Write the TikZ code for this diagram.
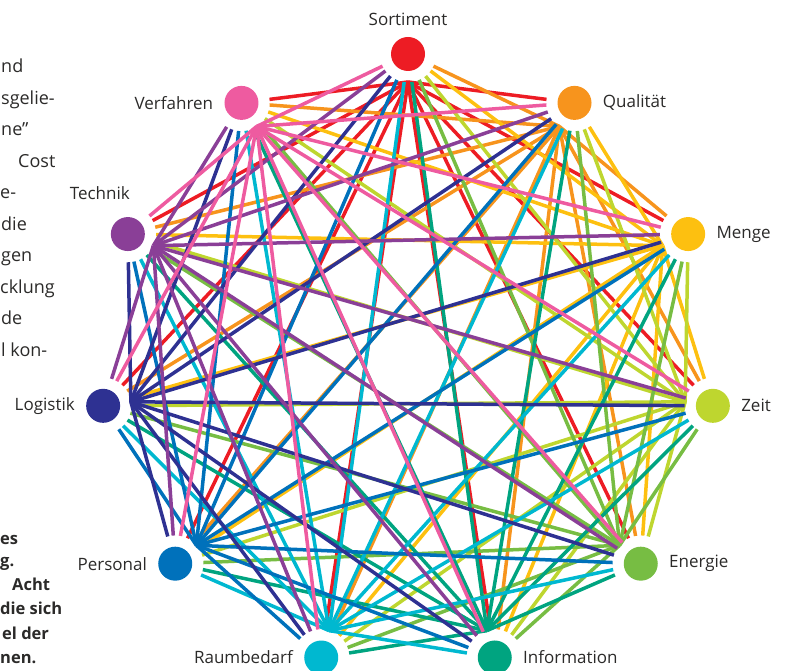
\documentclass[tikz,border=0pt]{standalone}
\usepackage{fontspec}
\setmainfont{Open Sans}
\usetikzlibrary{calc}

% Farben der elf Faktoren
\definecolor{sort}{HTML}{ED1C24}
\definecolor{qual}{HTML}{F7941D}
\definecolor{menge}{HTML}{FDC010}
\definecolor{zeit}{HTML}{BED62F}
\definecolor{energie}{HTML}{77BD43}
\definecolor{info}{HTML}{00A480}
\definecolor{raum}{HTML}{00B8D0}
\definecolor{pers}{HTML}{0071BB}
\definecolor{logi}{HTML}{2E3192}
\definecolor{tech}{HTML}{8A3F97}
\definecolor{verf}{HTML}{EE5BA0}
\definecolor{schrift}{HTML}{2B2A29}

\def\spots{sort,qual,menge,zeit,energie,info,raum,pers,logi,tech,verf}

\tikzset{
  % weisser Hof (r=28) mit farbigem Punkt (r=17)
  spot/.style={circle, minimum size=56pt, inner sep=0pt,
    path picture={\fill[#1] (path picture bounding box.center) circle (17pt);}},
  lbl/.style={font=\fontsize{17}{20}\selectfont, text=schrift, inner sep=1pt},
  lblnear/.style={label distance=-1pt},
  lblfar/.style={label distance=5pt, xshift=-28pt},
  link/.style={line width=3.5pt},
  body/.style={anchor=base west, font=\fontsize{18}{22}\selectfont, text=schrift, inner sep=0pt},
  bodybold/.style={anchor=base west, font=\fontsize{16.5}{18}\selectfont\bfseries, text=schrift, inner sep=0pt}
}

\begin{document}
\begin{tikzpicture}[x=1pt, y=1pt]
\useasboundingbox (0,0) rectangle (788,671);
\coordinate (mid) at (408,309);

% Punkte im Kreis, jeweils mit Ansatzpunkt zur Mitte hin
\foreach \n/\lab/\pos/\d [count=\k from 0] in {sort/Sortiment/above/lblnear, qual/Qualität/right/lblnear,
    menge/Menge/right/lblnear, zeit/Zeit/right/lblnear, energie/Energie/right/lblnear,
    info/Information/right/lblnear, raum/Raumbedarf/left/lblnear, pers/Personal/left/lblnear,
    logi/Logistik/left/lblnear, tech/Technik/above/lblfar, verf/Verfahren/left/lblnear}
{
  \node[spot=\n, label={[lbl, name=\n-text, \d]\pos:\lab}] (\n) at ($(mid)+(90-\k*32.7273:308)$) {};
  \coordinate (\n-hub) at ($(\n.center)!28pt!(mid)$);
}

% jede Farbe vom eigenen Ansatzpunkt zu jedem anderen Punkt
\foreach \a in \spots {
  \foreach \b in \spots {
    \ifx\a\b\else
      \draw[link, color=\a] (\a-hub) -- (\b);
    \fi
  }
}

% Fliesstext am Rand
\foreach \t/\x [count=\k from 0] in {nd/1, sgelie-/1, ne”/1, Cost/18, e-/0, die/1, gen/1, cklung/0, de/1, l kon-/1}
  \node[body] (txt\k) at (\x, 598-\k*31.5) {\t};

\foreach \t/\x/\y [count=\k] in {es/0/126, g./0/104, Acht/12/80, die sich/0/56, el der/2/31, nen./0/7}
  \node[bodybold] (bold\k) at (\x,\y) {\t};
\end{tikzpicture}
\end{document}
